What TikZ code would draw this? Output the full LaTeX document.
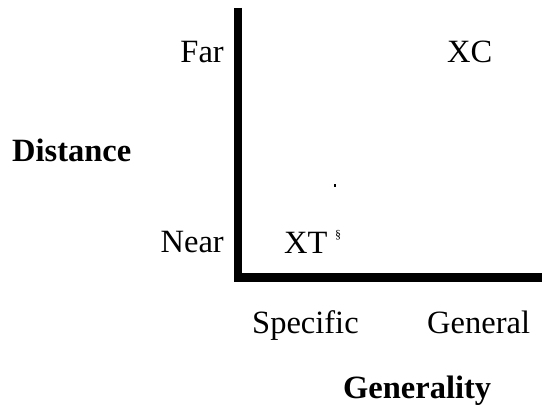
\documentclass[tikz,border=0pt]{standalone}
\usepackage{fontspec}
\setmainfont{Liberation Serif}
\begin{document}
\begin{tikzpicture}[x=1pt,y=1pt,
  lbl/.style={inner sep=0pt,font=\fontsize{32.5}{38}\selectfont},
  blbl/.style={inner sep=0pt,font=\fontsize{32.5}{38}\selectfont\bfseries},
  axisline/.style={line width=8.5pt,line join=miter}]
\useasboundingbox (0,0) rectangle (545,410);
\coordinate (top) at (238,402);
\coordinate (origin) at (238,132.5);
\coordinate (right) at (542,132.5);
\draw[axisline] (top) -- (origin) -- (right);
\node[lbl,anchor=base east] (far) at (224,347) {Far};
\node[lbl,anchor=base east] (near) at (224,158) {Near};
\node[lbl,anchor=base west] (xc) at (447,347) {XC};
\node[lbl,anchor=base west] (xt) at (284,157) {XT};
\node[inner sep=0pt,font=\fontsize{12}{13}\selectfont,anchor=center] (mark) at (338,175) {\S};
\node[lbl,anchor=base west] (spec) at (252,77) {Specific};
\node[lbl,anchor=base west] (gen) at (427,77) {General};
\node[blbl,anchor=base west] (dist) at (12,248) {Distance};
\node[blbl,anchor=base west] (gty) at (343,12) {Generality};
\fill (333.5,223.5) rectangle (335.5,226.5);
\end{tikzpicture}
\end{document}
